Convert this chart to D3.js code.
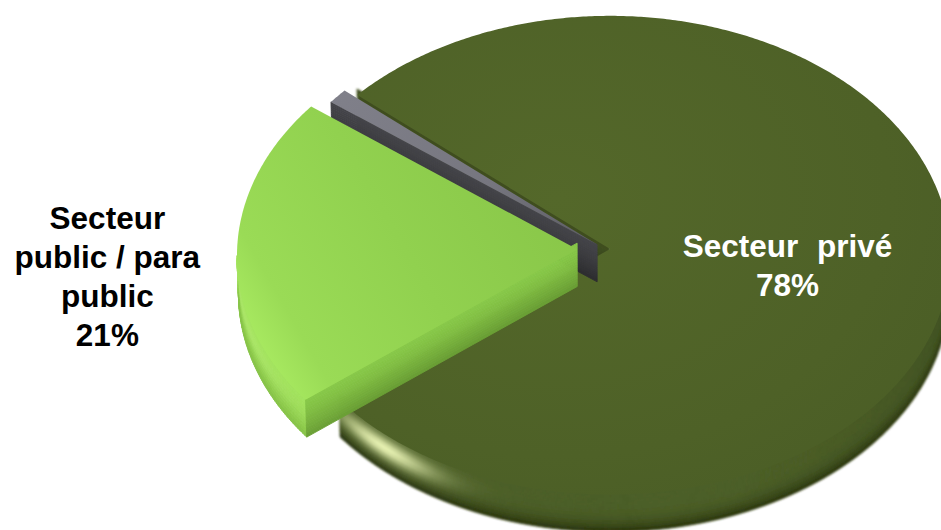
<!DOCTYPE html>
<html>
<head>
<meta charset="utf-8">
<script src="https://cdn.jsdelivr.net/npm/d3@7"></script>
<style>
  html, body { margin: 0; padding: 0; background: #ffffff; }
  svg { display: block; }
  text { font-family: "Liberation Sans", Arial, Helvetica, sans-serif; font-weight: bold; }
</style>
</head>
<body>
<svg id="chart" width="941" height="530"></svg>
<script>
// ---- data -------------------------------------------------------------
const categories = ["Secteur public / para public", "Autre", "Secteur privé"];
const shares = [21, 1, 78];
const nameLines = [["Secteur", "public / para", "public"], [], ["Secteur privé"]];

// ---- view settings ----------------------------------------------------
const W = 941, H = 530;
const pieRotation = 231.7;          // start angle of first slice (deg, clockwise from 12 o'clock)
const explode = [0.082, 0.03, 0.015]; // outward offset of each slice (radius units)
const drawOrder = [2, 1, 0];        // back to front
const tilt = 44.7 * Math.PI / 180;  // camera elevation
const camDist = 28;                 // camera distance (radius units)
const radiusPx = 340;
const thickness = 0.155;
const origin = [605, 249];          // screen position of the pie centre (top face)
const fontSize = 31.5;
const lineH = 39;
const labelSpots = [
  { r: 1.382, turn: -4.2, fill: "#000000" },
  null,
  { r: 0.525, turn: 6, fill: "#ffffff", wordSpacing: 10 }
];

const palettes = [
  { // light green
    topStops: [[0, "#aaec62"], [0.14, "#9adb56"], [0.5, "#91d14f"], [1, "#88c548"]],
    wallTop: "#a2e25c", wallBottom: "#86c247", wallPow: 1.5,
    glow: "#c0f582", glowAt: 165, glowWidth: 18, glowStrength: 0.4, rightShade: 0,
    faceTop: "#88c848", faceBottom: "#6a9e35", blur: 0.6
  },
  { // grey
    topStops: [[0, "#80808a"], [0.6, "#76767f"], [1, "#5c5c63"]],
    wallTop: "#66666e", wallBottom: "#36363a", wallPow: 1, rightShade: 0,
    faceTop: "#45454a", faceBottom: "#2d2d30", blur: 0
  },
  { // olive
    topStops: [[0, "#54682a"], [0.75, "#4e6127"], [1, "#4b5e26"]],
    wallTop: "#4b5e26", wallBottom: "#28320e", wallPow: 4,
    glow: "#eef8b8", glowAt: 131, glowWidth: 10.5, glowStrength: 0.95, rightShade: 0.35,
    faceTop: "#3e4d1e", faceBottom: "#2b3713", blur: 1.1
  }
];

// ---- projection ---------------------------------------------------------
const sinT = Math.sin(tilt), cosT = Math.cos(tilt);
const cam = [0, camDist * sinT, camDist * cosT];
function project(p) {
  const [x, y, z] = p;
  const depth = camDist - (y * sinT + z * cosT);
  const k = camDist / depth;
  return [origin[0] + x * k * radiusPx, origin[1] - (y * cosT - z * sinT) * k * radiusPx];
}
function lerp3(a, b, t) { return [a[0] + (b[0] - a[0]) * t, a[1] + (b[1] - a[1]) * t, a[2] + (b[2] - a[2]) * t]; }
function rimPoint(off, a, r, y) { return [off[0] + r * Math.sin(a), y, off[1] - r * Math.cos(a)]; }
function facesCamera(n, p) {
  return n[0] * (cam[0] - p[0]) + n[1] * (cam[1] - p[1]) + n[2] * (cam[2] - p[2]) > 0;
}
const poly = d3.line();

const svg = d3.select("#chart");
const defs = svg.append("defs");

const pie = d3.pie().sort(null).value(d => d)
  .startAngle(pieRotation * Math.PI / 180)
  .endAngle(pieRotation * Math.PI / 180 + 2 * Math.PI);
const arcs = pie(shares);

function sliceOffset(d, i) {
  const mid = (d.startAngle + d.endAngle) / 2;
  return [explode[i] * Math.sin(mid), -explode[i] * Math.cos(mid)];
}
function worldDeg(a) { return ((a * 180 / Math.PI - 90) % 360 + 360) % 360; }

// quad strip between two edges, split into bands for shading;
// `tuck` is the part hidden under the top face (v < 0)
function strip(g, topPts, botPts, normalAt, colorAt, bands, tuck) {
  const vTop = -tuck / thickness;
  for (let i = 0; i < topPts.length - 1; i++) {
    const mid = lerp3(lerp3(topPts[i], topPts[i + 1], 0.5), lerp3(botPts[i], botPts[i + 1], 0.5), 0.5);
    if (!facesCamera(normalAt(i), mid)) continue;
    for (let j = 0; j < bands; j++) {
      const u0 = j / bands, u1 = (j + 1) / bands;
      const q = [
        lerp3(topPts[i], botPts[i], u0), lerp3(topPts[i + 1], botPts[i + 1], u0),
        lerp3(topPts[i + 1], botPts[i + 1], u1), lerp3(topPts[i], botPts[i], u1)
      ].map(project);
      const v = Math.max(0, vTop + (1 - vTop) * (u0 + u1) / 2);
      const c = colorAt(i, v);
      g.append("path").attr("d", poly(q) + "Z").attr("fill", c).attr("stroke", c).attr("stroke-width", 0.9);
    }
  }
}

function wallColor(p, deg, v) {
  let c = d3.interpolateRgb(p.wallTop, p.wallBottom)(Math.pow(v, p.wallPow));
  if (p.glow) {
    const dd = deg - p.glowAt;
    const h = Math.exp(-Math.pow(dd / p.glowWidth, 2)) * Math.exp(-Math.pow((v - 0.38) / 0.28, 2));
    c = d3.interpolateRgb(c, p.glow)(h * p.glowStrength);
  }
  if (deg < 70 && p.rightShade) c = d3.interpolateRgb(c, "#2c3812")((70 - deg) / 70 * p.rightShade);
  return c;
}

const layer = svg.append("g");

drawOrder.forEach(i => {
  const d = arcs[i];
  const p = palettes[i];
  const off = sliceOffset(d, i);
  const g = layer.append("g").attr("class", "slice").attr("data-name", categories[i]);
  const steps = Math.max(2, Math.ceil((d.endAngle - d.startAngle) / (Math.PI / 360)));
  const angles = d3.range(steps + 1).map(k => d.startAngle + (d.endAngle - d.startAngle) * k / steps);

  // sides, softened slightly; softened sides start a little above the top face
  const sides = g.append("g");
  const tuck = p.blur > 0 ? 0.025 : 0;
  if (p.blur > 0) {
    const fid = "soft" + i;
    defs.append("filter").attr("id", fid).attr("x", -0.05).attr("y", -0.05).attr("width", 1.1).attr("height", 1.1)
      .append("feGaussianBlur").attr("stdDeviation", p.blur);
    sides.attr("filter", `url(#${fid})`);
  }

  // outer wall
  const wTop = angles.map(a => rimPoint(off, a, 1, tuck));
  const wBot = angles.map(a => rimPoint(off, a, 1, -thickness));
  strip(sides, wTop, wBot,
    k => { const a = (angles[k] + angles[k + 1]) / 2; return [Math.sin(a), 0, -Math.cos(a)]; },
    (k, v) => wallColor(p, worldDeg((angles[k] + angles[k + 1]) / 2), v), 12, tuck);

  // radial faces
  [[d.startAngle, -1], [d.endAngle, 1]].forEach(([a, side]) => {
    const n = [Math.sin(a + side * Math.PI / 2), 0, -Math.cos(a + side * Math.PI / 2)];
    const fTop = [0, 1].map(r => rimPoint(off, a, r, tuck));
    const fBot = [0, 1].map(r => rimPoint(off, a, r, -thickness));
    strip(sides, fTop, fBot, () => n,
      (k, v) => d3.interpolateRgb(p.faceTop, p.faceBottom)(Math.pow(v, 1.4)), 18, tuck);
  });

  // top face
  const topPts = [project(rimPoint(off, 0, 0, 0))].concat(angles.map(a => project(rimPoint(off, a, 1, 0))));
  const xs = topPts.map(q => q[0]), ys = topPts.map(q => q[1]);
  const gid = "top" + i;
  let grad;
  if (i === 2) {
    grad = defs.append("radialGradient").attr("id", gid)
      .attr("cx", 0.36).attr("cy", 0.38).attr("r", 0.72);
  } else if (i === 0) {
    grad = defs.append("linearGradient").attr("id", gid)
      .attr("x1", 0).attr("y1", 0.75).attr("x2", 1).attr("y2", 0.25);
  } else {
    grad = defs.append("linearGradient").attr("id", gid)
      .attr("gradientUnits", "userSpaceOnUse")
      .attr("x1", d3.min(xs)).attr("y1", d3.min(ys)).attr("x2", d3.max(xs)).attr("y2", d3.max(ys));
  }
  p.topStops.forEach(([o, c]) => grad.append("stop").attr("offset", o).attr("stop-color", c));
  g.append("path").attr("d", poly(topPts) + "Z").attr("fill", `url(#${gid})`);
});

// ---- labels -------------------------------------------------------------
const labels = svg.append("g");
arcs.forEach((d, i) => {
  const spot = labelSpots[i];
  if (!spot) return;
  const off = sliceOffset(d, i);
  const a = (d.startAngle + d.endAngle) / 2 + spot.turn * Math.PI / 180;
  const [px, py] = project(rimPoint(off, a, spot.r, 0));
  const lines = nameLines[i].concat([`${d.data}%`]);
  const t = labels.append("text")
    .attr("text-anchor", "middle")
    .attr("font-size", fontSize)
    .attr("fill", spot.fill);
  if (spot.wordSpacing) t.attr("word-spacing", spot.wordSpacing);
  lines.forEach((s, k) => {
    t.append("tspan")
      .attr("x", px)
      .attr("y", py + (k - (lines.length - 1) / 2) * lineH + fontSize * 0.36)
      .text(s);
  });
});
</script>
</body>
</html>
